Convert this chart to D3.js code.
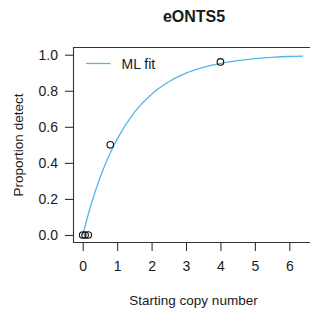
<!DOCTYPE html>
<html><head><meta charset="utf-8">
<script src="https://cdn.jsdelivr.net/npm/d3@7"></script>
<style>
html,body{margin:0;padding:0;background:#fff;}
svg{display:block;font-family:"Liberation Sans",Arial,Helvetica,sans-serif;}
</style></head>
<body><svg id="c" width="310" height="312"></svg>
<script>
const title = "eONTS5";
const xLabel = "Starting copy number";
const yLabel = "Proportion detect";
const legendLabel = "ML fit";
const xTicks = [0,1,2,3,4,5,6];
const yTicks = [0,0.2,0.4,0.6,0.8,1.0];
// observed points
const obsX = [0, 0.07, 0.16, 0.8, 4];
const obsY = [0, 0, 0, 0.5, 0.96];
// ML fit curve
const fitX = [0,0.25,0.5,0.75,1,1.5,2,2.5,3,3.5,4,4.5,5,5.5,6,6.4];
const fitY = [0,0.173,0.316,0.434,0.532,0.680,0.781,0.850,0.898,0.930,0.952,0.967,0.978,0.985,0.990,0.992];

const svg = d3.select("#c");
const x = d3.scaleLinear().domain([0,6]).range([82.7,289.3]);
const y = d3.scaleLinear().domain([0,1]).range([235,54.7]);
const axisCol = "#333";
const txtCol = "#1a1a1a";

// box (right side beyond view)
svg.append("path")
  .attr("d","M312,47.5H73.5V242.5H312")
  .attr("fill","none").attr("stroke",axisCol).attr("stroke-width",1.1);

// y axis
const ya = svg.append("g").attr("transform","translate(73.5,0)")
  .call(d3.axisLeft(y).tickValues(yTicks).tickFormat(d3.format(".1f")).tickSize(8.5).tickPadding(7));
ya.select(".domain").remove();
ya.selectAll("line").attr("stroke",axisCol).attr("stroke-width",1.1);
ya.selectAll("text").attr("font-size",14).attr("fill",txtCol).attr("font-family","Liberation Sans, Arial, sans-serif");

// x axis
const xa = svg.append("g").attr("transform","translate(0,242.5)")
  .call(d3.axisBottom(x).tickValues(xTicks).tickFormat(d3.format("d")).tickSize(8.5).tickPadding(10.5));
xa.select(".domain").remove();
xa.selectAll("line").attr("stroke",axisCol).attr("stroke-width",1.1);
xa.selectAll("text").attr("font-size",14).attr("fill",txtCol).attr("font-family","Liberation Sans, Arial, sans-serif");

// fit curve
const fit = fitX.map((d,i)=>[d,fitY[i]]);
svg.append("path").datum(fit)
  .attr("d", d3.line().x(d=>x(d[0])).y(d=>y(d[1])).curve(d3.curveMonotoneX))
  .attr("fill","none").attr("stroke","#56B4E9").attr("stroke-width",1.3);

// points
svg.selectAll("circle.pt").data(obsX.map((d,i)=>[d,obsY[i]])).enter()
  .append("circle").attr("class","pt")
  .attr("cx",d=>x(d[0])).attr("cy",d=>y(d[1])).attr("r",3.3)
  .attr("fill","none").attr("stroke","#111").attr("stroke-width",1.1);

// legend
svg.append("line").attr("x1",86).attr("x2",110.5).attr("y1",63.5).attr("y2",63.5)
  .attr("stroke","#56B4E9").attr("stroke-width",1.3);
svg.append("text").attr("x",121.5).attr("y",68.5).attr("font-size",14).attr("fill",txtCol).text(legendLabel);

// titles
svg.append("text").attr("x",194).attr("y",21.5).attr("text-anchor","middle")
  .attr("font-size",16).attr("font-weight","bold").attr("fill",txtCol).text(title);
svg.append("text").attr("x",193.5).attr("y",304.5).attr("text-anchor","middle")
  .attr("font-size",13.5).attr("fill",txtCol).text(xLabel);
svg.append("text").attr("transform","translate(23,145) rotate(-90)").attr("text-anchor","middle")
  .attr("font-size",13.5).attr("fill",txtCol).text(yLabel);
</script></body></html>
